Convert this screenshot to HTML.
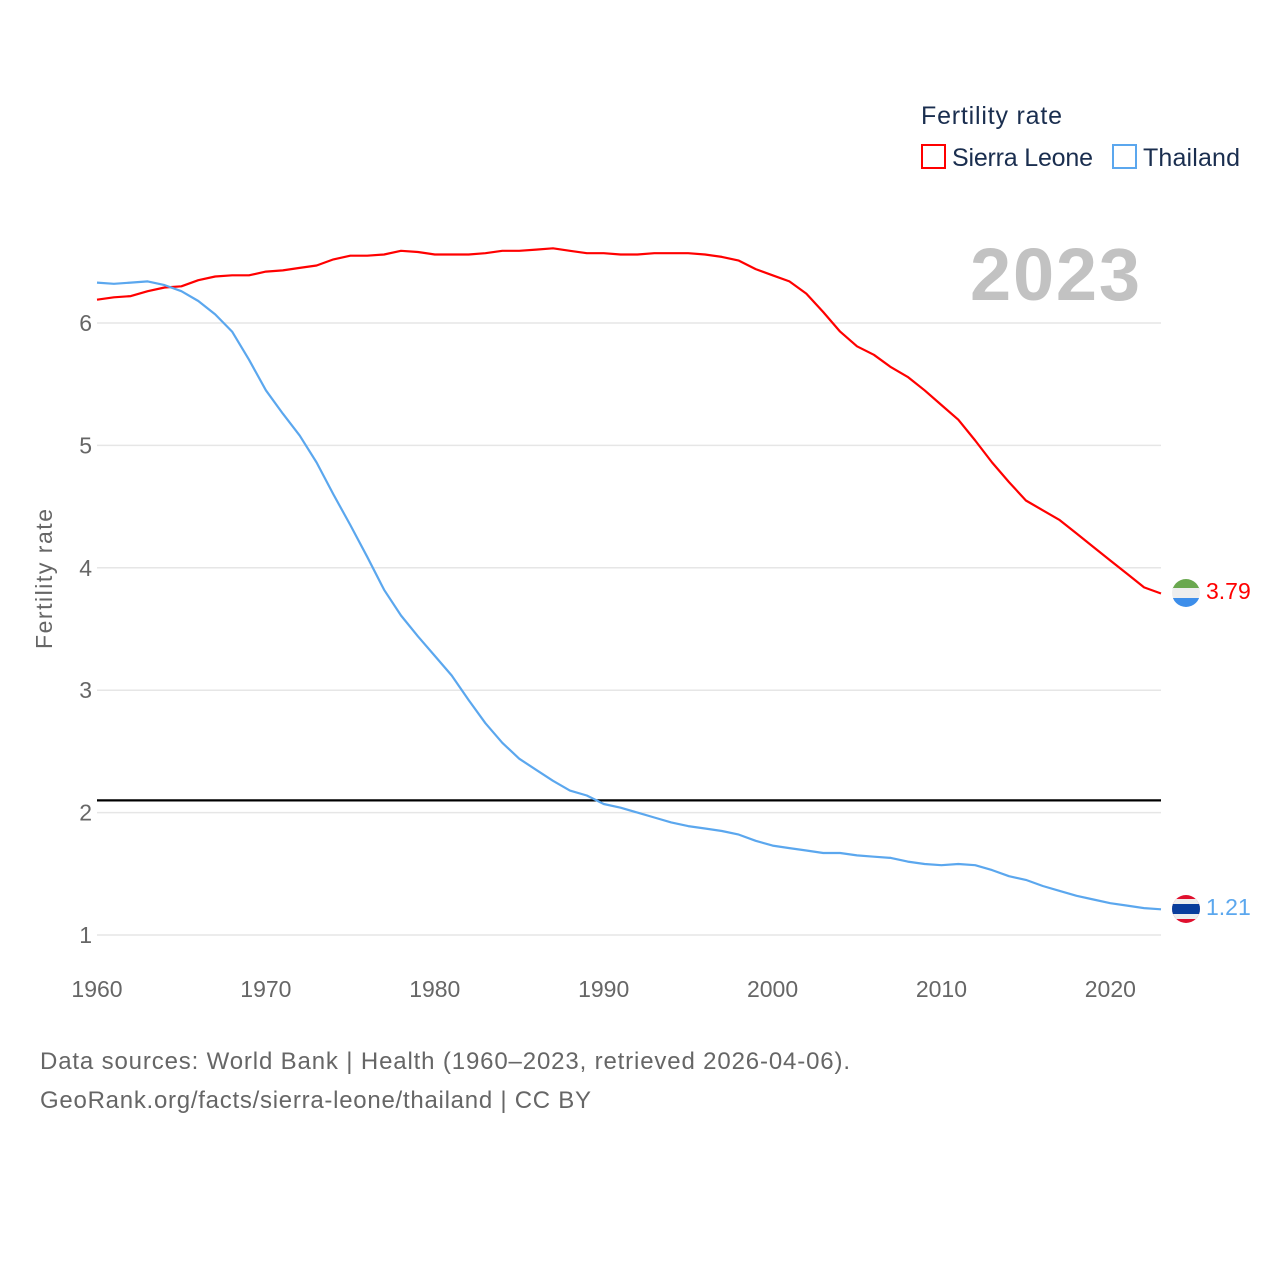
<!DOCTYPE html>
<html><head><meta charset="utf-8"><style>
html,body{margin:0;padding:0;background:#fff;width:1280px;height:1280px;overflow:hidden}
svg{display:block;font-family:"Liberation Sans",sans-serif}
</style></head><body>
<svg id="chart" width="1280" height="1280" viewBox="0 0 1280 1280">
<g id="grid"></g>
<g id="yticks"></g>
<g id="xticks"></g>
<line id="ref" x1="97" x2="1161" stroke="#000" stroke-width="2.2"/>
<g id="series"></g>
<text x="52" y="579" transform="rotate(-90 52 579)" text-anchor="middle" font-size="23" fill="#666" textLength="140">Fertility rate</text>
<text x="921" y="124" font-size="25" fill="#1a2e4f" textLength="141">Fertility rate</text>
<g>
<rect x="922" y="145" width="23" height="23" fill="none" stroke="#f00" stroke-width="2"/>
<text x="952" y="166" font-size="25" fill="#1a2e4f" textLength="141">Sierra Leone</text></g>
<g>
<rect x="1113" y="145" width="23" height="23" fill="none" stroke="#5ba7ee" stroke-width="2"/>
<text x="1143" y="166" font-size="25" fill="#1a2e4f" textLength="97">Thailand</text></g>
<text x="970" y="300" font-size="74" font-weight="bold" fill="#c2c2c2" textLength="170">2023</text>
<g>
<clipPath id="c1"><circle cx="1186" cy="593" r="14"/></clipPath>
<g clip-path="url(#c1)"><rect x="1172" y="579" width="28" height="10" fill="#6aa84f"/><rect x="1172" y="588" width="28" height="10" fill="#eee"/><rect x="1172" y="598" width="28" height="10" fill="#3d8eea"/></g></g>
<g>
<clipPath id="c2"><circle cx="1186" cy="909" r="14"/></clipPath>
<g clip-path="url(#c2)"><rect x="1172" y="895" width="28" height="28" fill="#e0102e"/><rect x="1172" y="899" width="28" height="20" fill="#eee"/><rect x="1172" y="904" width="28" height="10" fill="#0a3d9c"/></g></g>
<text id="lblSL" x="1206" y="599" font-size="23" fill="#f00">3.79</text>
<text id="lblTH" x="1206" y="915" font-size="23" fill="#5ba7ee">1.21</text>
<text x="40" y="1069" font-size="24" fill="#666" textLength="810">Data sources: World Bank | Health (1960–2023, retrieved 2026-04-06).</text>
<text x="40" y="1108" font-size="24" fill="#666" textLength="551">GeoRank.org/facts/sierra-leone/thailand | CC BY</text>
</svg>
<script>
const years=[];for(let y=1960;y<=2023;y++)years.push(y);
const sierraLeone=[6.19,6.21,6.22,6.26,6.29,6.30,6.35,6.38,6.39,6.39,6.42,6.43,6.45,6.47,6.52,6.55,6.55,6.56,6.59,6.58,6.56,6.56,6.56,6.57,6.59,6.59,6.60,6.61,6.59,6.57,6.57,6.56,6.56,6.57,6.57,6.57,6.56,6.54,6.51,6.44,6.39,6.34,6.24,6.09,5.93,5.81,5.74,5.64,5.56,5.45,5.33,5.21,5.04,4.86,4.70,4.55,4.47,4.39,4.28,4.17,4.06,3.95,3.84,3.79];
const thailand=[6.33,6.32,6.33,6.34,6.31,6.26,6.18,6.07,5.93,5.70,5.45,5.26,5.08,4.86,4.60,4.35,4.09,3.82,3.61,3.44,3.28,3.12,2.92,2.73,2.57,2.44,2.35,2.26,2.18,2.14,2.07,2.04,2.00,1.96,1.92,1.89,1.87,1.85,1.82,1.77,1.73,1.71,1.69,1.67,1.67,1.65,1.64,1.63,1.60,1.58,1.57,1.58,1.57,1.53,1.48,1.45,1.40,1.36,1.32,1.29,1.26,1.24,1.22,1.21];
const yTicks=[1,2,3,4,5,6];
const xTicks=[1960,1970,1980,1990,2000,2010,2020];
const refValue=2.1;
const NS="http://www.w3.org/2000/svg";
const X0=97,X1=1161,Y6=323,PER=122.4;
const xs=y=>X0+(y-1960)*(X1-X0)/(2023-1960);
const ys=v=>Y6-(v-6)*PER;
function mk(t,a,p){const e=document.createElementNS(NS,t);for(const k in a)e.setAttribute(k,a[k]);p.appendChild(e);return e;}
const grid=document.getElementById('grid'),yt=document.getElementById('yticks'),xt=document.getElementById('xticks');
yTicks.forEach(v=>{
 const l=mk('line',{x1:X0,x2:X1,y1:ys(v),y2:ys(v),stroke:'#e6e6e6','stroke-width':1.5},grid);
 
 
 const t=mk('text',{x:92,y:ys(v)+8,'text-anchor':'end','font-size':23,fill:'#666'},yt);t.textContent=v;
 
 
});
xTicks.forEach(v=>{
 const t=mk('text',{x:xs(v),y:997,'text-anchor':'middle','font-size':23,fill:'#666'},xt);t.textContent=v;
 
 
});
const ref=document.getElementById('ref');ref.setAttribute('y1',ys(refValue));ref.setAttribute('y2',ys(refValue));
const ser=document.getElementById('series');
[[sierraLeone,'#f00','line-sierra-leone'],[thailand,'#5ba7ee','line-thailand']].forEach(([d,c,n])=>{
 const p=mk('path',{d:d.map((v,i)=>(i?'L':'M')+xs(years[i]).toFixed(1)+','+ys(v).toFixed(1)).join(''),fill:'none',stroke:c,'stroke-width':2.2,'stroke-linejoin':'round'},ser);
 
 
});
document.getElementById('lblSL').textContent=sierraLeone[sierraLeone.length-1].toFixed(2);
document.getElementById('lblTH').textContent=thailand[thailand.length-1].toFixed(2);
</script>
</body></html>
